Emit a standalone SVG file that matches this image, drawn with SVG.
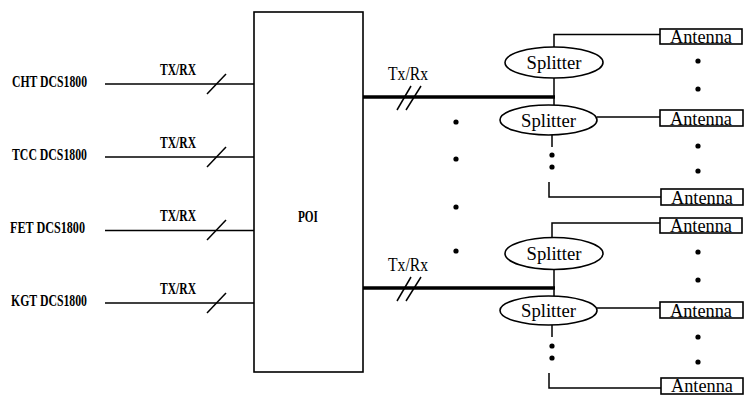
<svg xmlns="http://www.w3.org/2000/svg" width="746" height="396" viewBox="0 0 746 396">
<style>
.ln{stroke:#000;stroke-width:1.5;fill:none}
.thick{stroke:#000;stroke-width:3.5;fill:none}
.box{stroke:#000;stroke-width:1.6;fill:#fff}
.lbl{font-family:"Liberation Serif",serif;font-size:16px;font-weight:bold;fill:#000}
.ser{font-family:"Liberation Serif",serif;font-size:19px;fill:#000}
.dot{fill:#000}
</style>
<rect width="746" height="396" fill="#fff"/>
<g id="poi">
<rect class="box" x="254" y="12" width="109" height="360"/>
<text class="lbl" x="298" y="222" textLength="20" lengthAdjust="spacingAndGlyphs">POI</text>
</g>
<g id="src-cht"><text class="lbl" x="12" y="87" textLength="75" lengthAdjust="spacingAndGlyphs">CHT DCS1800</text></g>
<g id="src-tcc"><text class="lbl" x="12" y="160" textLength="75" lengthAdjust="spacingAndGlyphs">TCC DCS1800</text></g>
<g id="src-fet"><text class="lbl" x="10" y="233" textLength="75" lengthAdjust="spacingAndGlyphs">FET DCS1800</text></g>
<g id="src-kgt"><text class="lbl" x="11" y="306" textLength="76" lengthAdjust="spacingAndGlyphs">KGT DCS1800</text></g>
<g id="splitter1"><ellipse class="box" cx="554" cy="62.5" rx="49" ry="15.5"/><text class="ser" x="554" y="68.5" text-anchor="middle" textLength="55" lengthAdjust="spacingAndGlyphs">Splitter</text></g>
<g id="splitter2"><ellipse class="box" cx="548.5" cy="120" rx="48.5" ry="15"/><text class="ser" x="548.5" y="126.5" text-anchor="middle" textLength="55" lengthAdjust="spacingAndGlyphs">Splitter</text></g>
<g id="splitter3"><ellipse class="box" cx="554" cy="253.5" rx="49" ry="16"/><text class="ser" x="554" y="259.5" text-anchor="middle" textLength="55" lengthAdjust="spacingAndGlyphs">Splitter</text></g>
<g id="splitter4"><ellipse class="box" cx="548.5" cy="310.5" rx="48.5" ry="14.5"/><text class="ser" x="548.5" y="317" text-anchor="middle" textLength="55" lengthAdjust="spacingAndGlyphs">Splitter</text></g>
<g id="antenna1"><rect class="box" x="660" y="29" width="82" height="15"/><text class="ser" x="670" y="43" textLength="62" lengthAdjust="spacingAndGlyphs">Antenna</text></g>
<g id="antenna2"><rect class="box" x="660" y="110" width="83" height="16"/><text class="ser" x="670" y="124.5" textLength="62" lengthAdjust="spacingAndGlyphs">Antenna</text></g>
<g id="antenna3"><rect class="box" x="661" y="189" width="82" height="16"/><text class="ser" x="671" y="203.5" textLength="62" lengthAdjust="spacingAndGlyphs">Antenna</text></g>
<g id="antenna4"><rect class="box" x="660" y="218" width="82" height="15"/><text class="ser" x="670" y="232" textLength="62" lengthAdjust="spacingAndGlyphs">Antenna</text></g>
<g id="antenna5"><rect class="box" x="660" y="302" width="83" height="16"/><text class="ser" x="670" y="316.5" textLength="62" lengthAdjust="spacingAndGlyphs">Antenna</text></g>
<g id="antenna6"><rect class="box" x="661" y="378" width="82" height="16"/><text class="ser" x="671" y="391.5" textLength="62" lengthAdjust="spacingAndGlyphs">Antenna</text></g>
<g id="connectors">
<line class="ln" x1="105" y1="84" x2="254" y2="84"/>
<line class="ln" x1="207" y1="94" x2="226" y2="74"/>
<text class="lbl" x="160" y="75" textLength="36" lengthAdjust="spacingAndGlyphs">TX/RX</text>
<line class="ln" x1="105" y1="157" x2="254" y2="157"/>
<line class="ln" x1="207" y1="167" x2="226" y2="147"/>
<text class="lbl" x="160" y="148" textLength="36" lengthAdjust="spacingAndGlyphs">TX/RX</text>
<line class="ln" x1="105" y1="230.5" x2="254" y2="230.5"/>
<line class="ln" x1="207" y1="240" x2="226" y2="220"/>
<text class="lbl" x="160" y="221" textLength="36" lengthAdjust="spacingAndGlyphs">TX/RX</text>
<line class="ln" x1="105" y1="303" x2="254" y2="303"/>
<line class="ln" x1="207" y1="313" x2="226" y2="293"/>
<text class="lbl" x="160" y="294" textLength="36" lengthAdjust="spacingAndGlyphs">TX/RX</text>

<line class="thick" x1="363" y1="97" x2="555" y2="97"/>
<line class="ln" x1="397" y1="110" x2="411" y2="86"/>
<line class="ln" x1="406" y1="110" x2="421" y2="86"/>
<text class="ser" x="388" y="80" font-size="17" textLength="40" lengthAdjust="spacingAndGlyphs">Tx/Rx</text>
<line class="thick" x1="363" y1="288" x2="555" y2="288"/>
<line class="ln" x1="397" y1="301" x2="411" y2="277"/>
<line class="ln" x1="406" y1="301" x2="421" y2="277"/>
<text class="ser" x="388" y="271" font-size="17" textLength="40" lengthAdjust="spacingAndGlyphs">Tx/Rx</text>

<circle class="dot" cx="456" cy="122" r="2.6"/>
<circle class="dot" cx="456" cy="159" r="2.6"/>
<circle class="dot" cx="456" cy="207" r="2.6"/>
<circle class="dot" cx="456" cy="251" r="2.6"/>

<polyline class="ln" points="554,47 554,34.5 660,34.5"/>
<line class="ln" x1="554" y1="78" x2="554" y2="105"/>
<line class="ln" x1="597" y1="117" x2="660" y2="117"/>
<line class="ln" x1="552" y1="135" x2="552" y2="147"/>
<circle class="dot" cx="552" cy="155" r="2.6"/>
<circle class="dot" cx="552" cy="167" r="2.6"/>
<polyline class="ln" points="549,182 549,197 661,197"/>
<circle class="dot" cx="698" cy="61" r="2.6"/>
<circle class="dot" cx="698" cy="89" r="2.6"/>
<circle class="dot" cx="698" cy="146" r="2.6"/>
<circle class="dot" cx="698" cy="171" r="2.6"/>

<polyline class="ln" points="552,237.5 552,223 660,223"/>
<line class="ln" x1="554" y1="269.5" x2="554" y2="296"/>
<line class="ln" x1="597" y1="308" x2="660" y2="308"/>
<line class="ln" x1="552" y1="325" x2="552" y2="337"/>
<circle class="dot" cx="552" cy="346" r="2.6"/>
<circle class="dot" cx="552" cy="358" r="2.6"/>
<polyline class="ln" points="549,373 549,388 661,388"/>
<circle class="dot" cx="698" cy="252" r="2.6"/>
<circle class="dot" cx="698" cy="280" r="2.6"/>
<circle class="dot" cx="698" cy="337" r="2.6"/>
<circle class="dot" cx="698" cy="362" r="2.6"/>
</g>
</svg>
